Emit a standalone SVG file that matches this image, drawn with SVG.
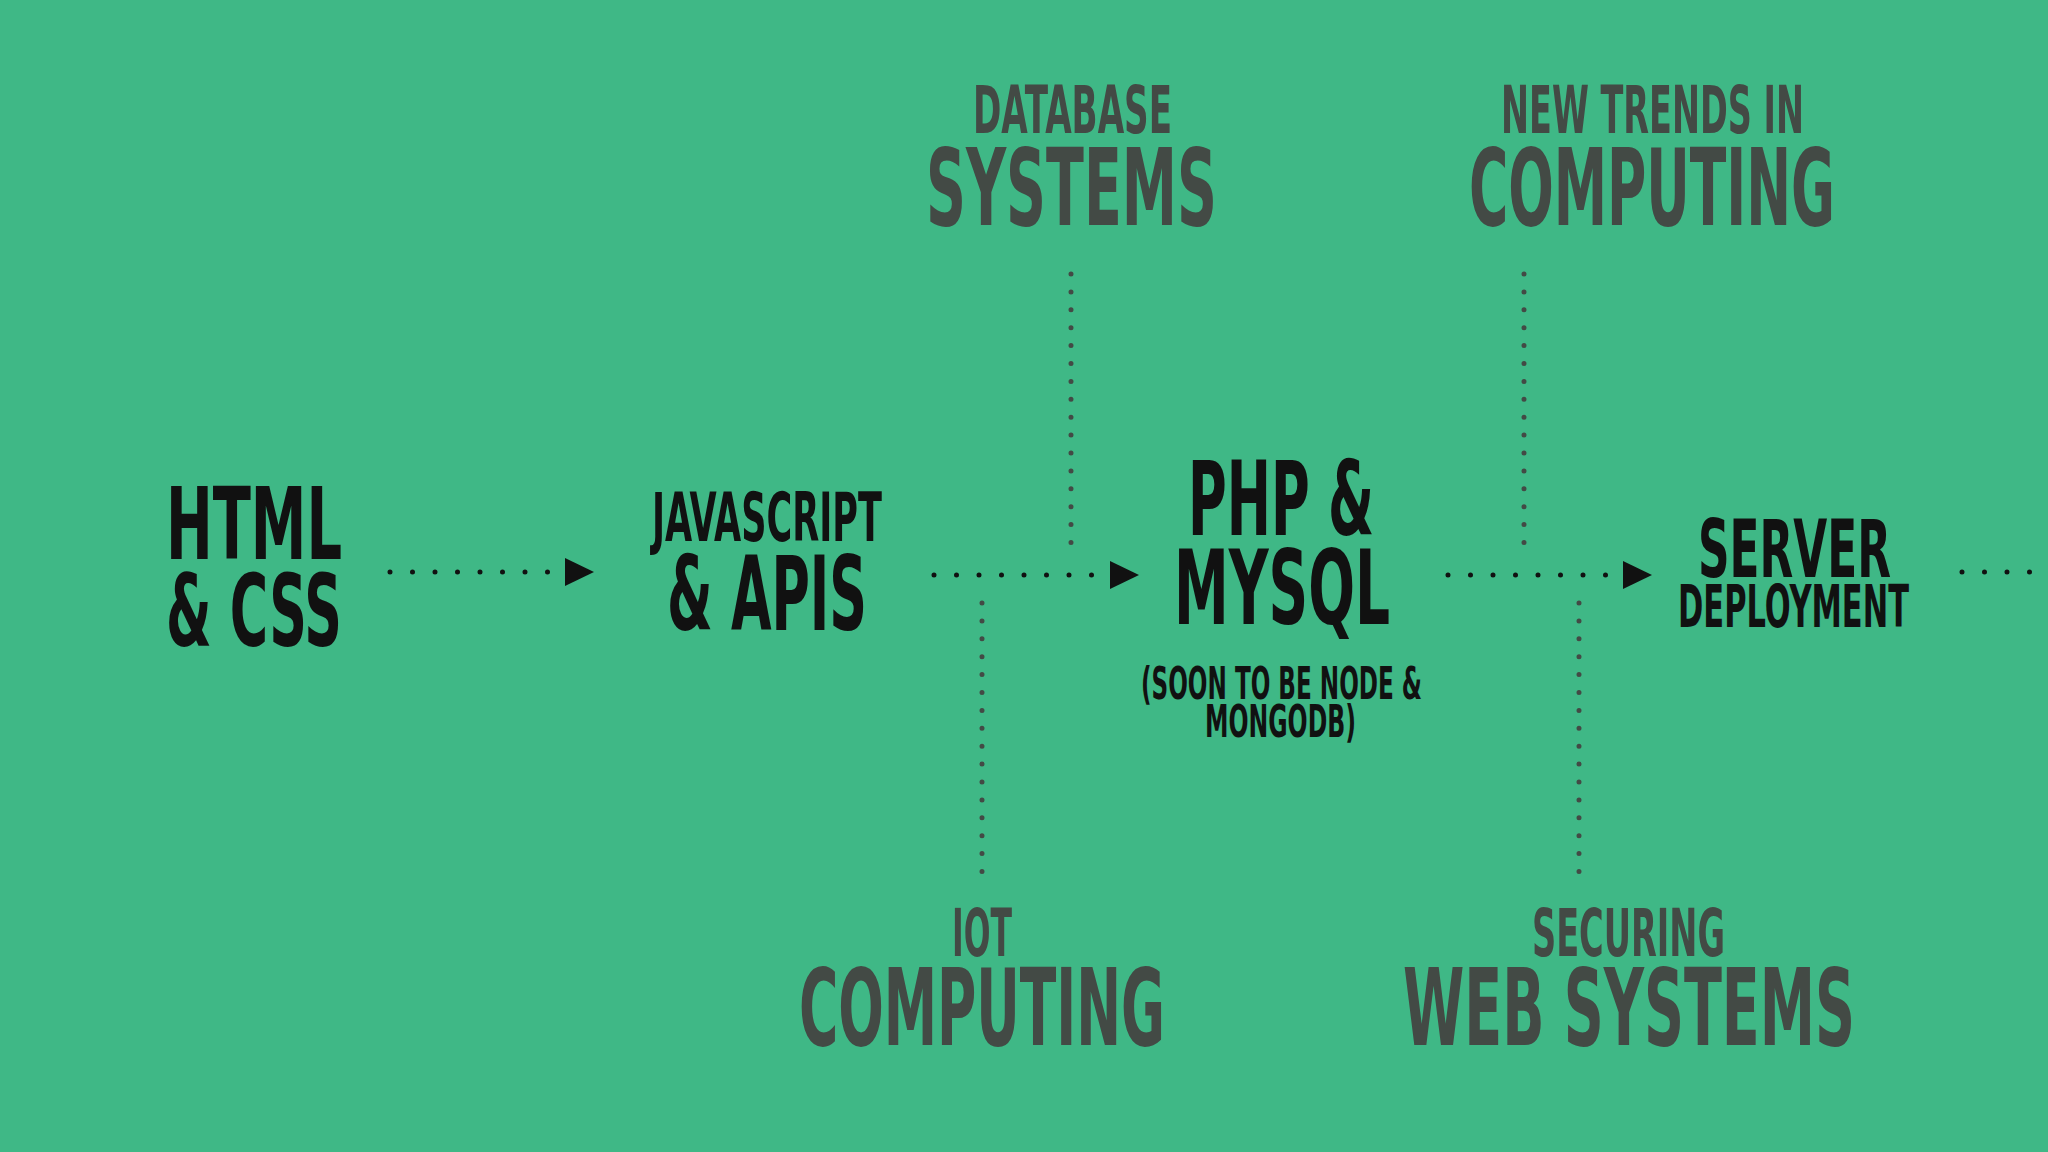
<svg xmlns="http://www.w3.org/2000/svg" width="2048" height="1152" viewBox="0 0 2048 1152">
<style>
text{font-family:"DejaVu Sans Condensed","DejaVu Sans",sans-serif;font-weight:bold}
.m{fill:#111}
.g{fill:#434a45}
.h{stroke:#111;stroke-width:5;stroke-linecap:round;stroke-dasharray:0 22.5;fill:none}
.v{stroke:#434a45;stroke-width:5;stroke-linecap:round;stroke-dasharray:0 17.9;fill:none}
</style>
<rect width="2048" height="1152" fill="#3fb886"/>
<g id="connectors">
<line class="h" x1="390" y1="572" x2="555" y2="572"/><path d="M565,558L594,572L565,586z" fill="#111"/>
<line class="h" x1="934" y1="575" x2="1097" y2="575"/><path d="M1110,561L1139,575L1110,589z" fill="#111"/>
<line class="h" x1="1448" y1="575" x2="1612" y2="575"/><path d="M1623,561L1652,575L1623,589z" fill="#111"/>
<line class="h" x1="1962" y1="572" x2="2040" y2="572"/>
<line class="v" x1="1071" y1="274" x2="1071" y2="545"/>
<line class="v" x1="1524" y1="274" x2="1524" y2="545"/>
<line class="v" x1="982" y1="603" x2="982" y2="875"/>
<line class="v" x1="1579" y1="603" x2="1579" y2="875"/>
</g>
<g id="html"><text class="m" x="166" y="559" font-size="100" textLength="176" lengthAdjust="spacingAndGlyphs">HTML</text><text class="m" x="166" y="646" font-size="100" textLength="176" lengthAdjust="spacingAndGlyphs">&amp; CSS</text></g>
<g id="js"><text class="m" x="652" y="541" font-size="68" textLength="230" lengthAdjust="spacingAndGlyphs">JAVASCRIPT</text><text class="m" x="667" y="630" font-size="104" textLength="200" lengthAdjust="spacingAndGlyphs">&amp; APIS</text></g>
<g id="php"><text class="m" x="1188" y="535" font-size="104" textLength="186" lengthAdjust="spacingAndGlyphs">PHP &amp;</text><text class="m" x="1174" y="624" font-size="104" textLength="216" lengthAdjust="spacingAndGlyphs">MYSQL</text>
<text class="m" x="1141" y="699" font-size="45" textLength="281" lengthAdjust="spacingAndGlyphs">(SOON TO BE NODE &amp;</text><text class="m" x="1205" y="737" font-size="45" textLength="151" lengthAdjust="spacingAndGlyphs">MONGODB)</text></g>
<g id="server"><text class="m" x="1698" y="577" font-size="81" textLength="193" lengthAdjust="spacingAndGlyphs">SERVER</text><text class="m" x="1678" y="627" font-size="59" textLength="231" lengthAdjust="spacingAndGlyphs">DEPLOYMENT</text></g>
<g id="database"><text class="g" x="973" y="133" font-size="66" textLength="199" lengthAdjust="spacingAndGlyphs">DATABASE</text><text class="g" x="926" y="225" font-size="107" textLength="291" lengthAdjust="spacingAndGlyphs">SYSTEMS</text></g>
<g id="trends"><text class="g" x="1501" y="133" font-size="66" textLength="303" lengthAdjust="spacingAndGlyphs">NEW TRENDS IN</text><text class="g" x="1469" y="225" font-size="107" textLength="366" lengthAdjust="spacingAndGlyphs">COMPUTING</text></g>
<g id="iot"><text class="g" x="952" y="956" font-size="66" textLength="60" lengthAdjust="spacingAndGlyphs">IOT</text><text class="g" x="799" y="1045" font-size="107" textLength="366" lengthAdjust="spacingAndGlyphs">COMPUTING</text></g>
<g id="securing"><text class="g" x="1532" y="956" font-size="66" textLength="193" lengthAdjust="spacingAndGlyphs">SECURING</text><text class="g" x="1403" y="1045" font-size="107" textLength="452" lengthAdjust="spacingAndGlyphs">WEB SYSTEMS</text></g>
</svg>
